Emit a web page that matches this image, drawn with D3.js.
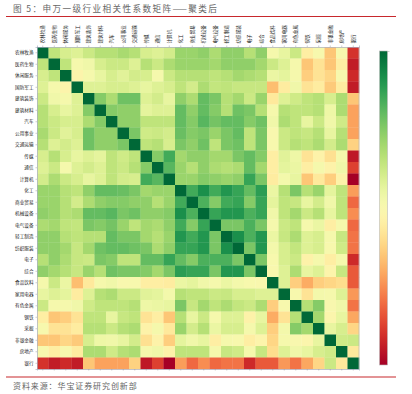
<!DOCTYPE html>
<html>
<head>
<meta charset="utf-8">
<script src="https://cdn.jsdelivr.net/npm/d3@7"></script>
<style>
html,body{margin:0;padding:0;background:#fff;}
svg{display:block;}
text{font-family:"Noto Sans CJK SC","Noto Sans",sans-serif;}
</style>
</head>
<body>
<script>
var w = 412;
var h = 394;

var sectors = ["农林牧渔","医药生物","休闲服务","国防军工","建筑装饰","建筑材料","汽车","公用事业","交通运输",
    "传媒","通信","计算机","化工","商业贸易","机械设备","电气设备","轻工制造","纺织服装","电子","综合",
    "食品饮料","家用电器","有色金属","钢铁","采掘","非银金融","房地产","银行"];

// upper triangle only, each row starts right after the diagonal
var corrRows = [
    [.58,.52,.50,.55,.60,.60,.63,.60,.52,.50,.53,.66,.66,.68,.62,.68,.68,.60,.68,.42,.47,.55,.34,.41,.22,.41,-.08],
    [.58,.42,.44,.52,.55,.55,.50,.60,.55,.62,.66,.66,.66,.64,.68,.68,.68,.64,.55,.50,.42,.22,.30,.22,.34,-.13],
    [.37,.42,.47,.52,.49,.53,.52,.42,.55,.60,.60,.60,.58,.60,.64,.62,.60,.46,.48,.42,.24,.30,.26,.41,-.10],
    [.50,.50,.52,.52,.50,.47,.50,.52,.58,.53,.62,.57,.58,.56,.56,.56,.20,.33,.44,.30,.33,.23,.33,-.13],
    [.70,.62,.74,.74,.50,.53,.47,.68,.62,.76,.72,.60,.64,.55,.66,.32,.50,.54,.58,.60,.52,.62,.22],
    [.70,.68,.68,.48,.50,.50,.76,.68,.76,.70,.60,.74,.72,.60,.42,.60,.58,.58,.60,.45,.62,.14],
    [.68,.68,.58,.58,.58,.76,.70,.78,.73,.76,.76,.70,.74,.44,.62,.58,.47,.55,.44,.54,.14],
    [.72,.54,.55,.53,.75,.70,.72,.66,.72,.76,.58,.72,.40,.55,.58,.56,.60,.47,.60,.14],
    [.58,.60,.52,.72,.68,.74,.58,.72,.74,.58,.72,.41,.55,.60,.58,.62,.53,.62,.25],
    [.70,.82,.64,.68,.68,.64,.64,.72,.76,.70,.34,.49,.45,.30,.36,.29,.42,-.14],
    [.78,.66,.60,.68,.62,.60,.62,.76,.64,.34,.48,.46,.34,.42,.36,.44,-.05],
    [.66,.66,.70,.68,.66,.68,.84,.72,.33,.43,.47,.22,.32,.24,.36,-.20],
    [.82,.90,.82,.88,.84,.76,.86,.46,.60,.72,.60,.66,.48,.58,.13],
    [.80,.70,.82,.84,.70,.84,.48,.58,.56,.47,.53,.44,.58,.03],
    [.84,.88,.88,.80,.84,.44,.58,.64,.55,.60,.47,.58,.10],
    [.72,.72,.80,.72,.42,.55,.58,.42,.46,.34,.42,.03],
    [.90,.80,.88,.46,.56,.62,.50,.52,.42,.56,.05],
    [.72,.88,.43,.52,.57,.50,.52,.41,.54,.05],
    [.72,.41,.52,.55,.36,.42,.34,.42,-.10],
    [.40,.50,.62,.47,.50,.37,.56,.00],
    [.50,.24,.16,.24,.26,.28,.00],
    [.41,.30,.43,.42,.50,.12],
    [.60,.70,.40,.44,.05],
    [.64,.38,.47,.15],
    [.47,.52,.26],
    [.54,.55],
    [.32]
];

var gridLeft = 37, gridTop = 47, gridSize = 322;

var svg = d3.select("body").append("svg")
    .attr("width", w)
    .attr("height", h);

// page title and source
svg.append("text")
    .text("图 5：申万一级行业相关性系数矩阵——聚类后")
    .attr("x", 13)
    .attr("y", 12)
    .attr("font-size", "8.6px")
    .attr("letter-spacing", "1.4px")
    .attr("fill", "#666");

svg.append("text")
    .text("资料来源：华宝证券研究创新部")
    .attr("x", 13)
    .attr("y", 389)
    .attr("font-size", "8px")
    .attr("letter-spacing", "0.9px")
    .attr("fill", "#666");

[16.5, 377].forEach(function(y){
    svg.append("line")
        .attr("x1", 6)
        .attr("x2", 396)
        .attr("y1", y)
        .attr("y2", y)
        .attr("stroke", "#c8282d")
        .attr("stroke-width", 1.2);
});

// scales
var xScale = d3.scaleBand().domain(sectors).range([gridLeft, gridLeft + gridSize]);
var yScale = d3.scaleBand().domain(sectors).range([gridTop, gridTop + gridSize]);
var colorScale = d3.scaleSequential(d3.interpolateRdYlGn).domain([-0.2, 1]);

// mirror the triangle into full cells
var cells = [];
sectors.forEach(function(a, i){
    cells.push({a: a, b: a, v: 1});
    if (i < corrRows.length) {
        corrRows[i].forEach(function(v, k){
            var b = sectors[i + 1 + k];
            cells.push({a: a, b: b, v: v});
            cells.push({a: b, b: a, v: v});
        });
    }
});

svg.selectAll("rect.cell")
    .data(cells)
    .enter()
    .append("rect")
    .attr("class", "cell")
    .attr("x", function(d){ return xScale(d.b); })
    .attr("y", function(d){ return yScale(d.a); })
    .attr("width", xScale.bandwidth() + 0.3)
    .attr("height", yScale.bandwidth() + 0.3)
    .attr("fill", function(d){ return colorScale(d.v); });

// axes
var topAxis = svg.append("g")
    .attr("transform", "translate(0," + gridTop + ")")
    .call(d3.axisTop(xScale).tickSize(1.5).tickPadding(2));
topAxis.selectAll("text")
    .attr("transform", "rotate(-90)")
    .attr("x", 3.5)
    .attr("y", 0)
    .attr("dy", "0.35em")
    .style("text-anchor", "start");

var leftAxis = svg.append("g")
    .attr("transform", "translate(" + gridLeft + ",0)")
    .call(d3.axisLeft(yScale).tickSize(1.5).tickPadding(2));

var bottomAxis = svg.append("g")
    .attr("transform", "translate(0," + (gridTop + gridSize) + ")")
    .call(d3.axisBottom(xScale).tickSize(1.5).tickFormat(""));

[topAxis, leftAxis, bottomAxis].forEach(function(g){
    g.selectAll("text").attr("font-size", "4.6px").attr("fill", "#222").attr("font-family", null);
    g.selectAll("line").attr("stroke", "#999").attr("stroke-width", 0.5);
    g.select(".domain").attr("stroke", "#a9afc4").attr("stroke-width", 0.7);
});

svg.append("line")
    .attr("x1", gridLeft + gridSize)
    .attr("x2", gridLeft + gridSize)
    .attr("y1", gridTop)
    .attr("y2", gridTop + gridSize)
    .attr("stroke", "#bbb")
    .attr("stroke-width", 0.7);

// colour bar
var barScale = d3.scaleLinear().domain([1, -0.2]).range([51, 365]);
var barLevels = d3.range(0, 61).map(function(i){ return 1 - i * 0.02; });

var gradient = svg.append("defs").append("linearGradient")
    .attr("id", "barGradient")
    .attr("x1", 0).attr("x2", 0)
    .attr("y1", 0).attr("y2", 1);
gradient.selectAll("stop")
    .data(barLevels)
    .enter()
    .append("stop")
    .attr("offset", function(d){ return (barScale(d) - 51) / 314; })
    .attr("stop-color", function(d){ return colorScale(d); });

svg.append("rect")
    .attr("x", 379.5)
    .attr("y", barScale(1))
    .attr("width", 8)
    .attr("height", barScale(-0.2) - barScale(1))
    .attr("fill", "url(#barGradient)")
    .attr("stroke", "#bbb")
    .attr("stroke-width", 0.6);

var barAxis = svg.append("g")
    .attr("transform", "translate(388,0)")
    .call(d3.axisRight(barScale).tickValues([1]).tickSize(1.5).tickFormat(""));
barAxis.select(".domain").remove();
barAxis.selectAll("line").attr("stroke", "#999").attr("stroke-width", 0.5);
</script>
</body>
</html>
